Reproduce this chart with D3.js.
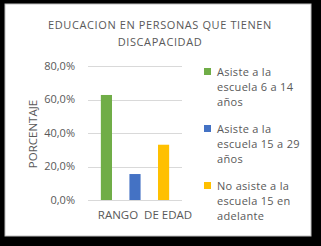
<!DOCTYPE html>
<html>
<head>
<meta charset="utf-8">
<script src="https://cdn.jsdelivr.net/npm/d3@7"></script>
<style>
  body { margin: 0; background: #000; }
  text { font-family: "Open Sans", "Liberation Sans", sans-serif; fill: #595959; }
</style>
</head>
<body>
<div id="chart"></div>
<script>
const categories = ['RANGO  DE EDAD'];
const seriesNames = [
  ['Asiste a la', 'escuela 6 a 14', 'años'],
  ['Asiste a la', 'escuela 15 a 29', 'años'],
  ['No asiste a la', 'escuela 15 en', 'adelante']
];
const seriesValues = [0.627, 0.155, 0.33];
const seriesColors = ['#70AD47', '#4472C4', '#FFC000'];
const yTicks = [0, 0.2, 0.4, 0.6, 0.8];

const width = 321, height = 246;
const margin = { top: 66, left: 88, right: 139, bottom: 46 };

const svg = d3.select('#chart').append('svg')
  .attr('width', width)
  .attr('height', height);

svg.append('rect').attr('width', width).attr('height', height).attr('fill', '#000');
svg.append('rect')
  .attr('x', 5).attr('y', 4)
  .attr('width', 306).attr('height', 232)
  .attr('fill', '#fff')
  .attr('stroke', '#bfbfbf');

// title
const title = svg.append('text')
  .attr('text-anchor', 'middle')
  .attr('font-size', 11)
  .attr('letter-spacing', 0.6);
title.append('tspan').attr('x', 160).attr('y', 29).text('EDUCACION EN PERSONAS QUE TIENEN');
title.append('tspan').attr('x', 160).attr('y', 46).text('DISCAPACIDAD');

const plotW = width - margin.left - margin.right;
const plotH = height - margin.top - margin.bottom;
const chart = svg.append('g').attr('transform', `translate(${margin.left},${margin.top})`);

const y = d3.scaleLinear().domain([0, 0.8]).range([plotH, 0]);
const x0 = d3.scaleBand().domain(categories).range([0, plotW]).paddingInner(0).paddingOuter(0.05);
const x1 = d3.scaleBand().domain(d3.range(seriesValues.length)).range([0, x0.bandwidth()]).paddingInner(0.61).paddingOuter(0.3);

// gridlines
chart.selectAll('.grid')
  .data(yTicks)
  .join('line')
  .attr('class', 'grid')
  .attr('x1', 0).attr('x2', plotW)
  .attr('y1', d => Math.round(y(d)) + 0.5)
  .attr('y2', d => Math.round(y(d)) + 0.5)
  .attr('stroke', '#d9d9d9');

// y axis labels
const fmt = d => d3.format('.1f')(d * 100).replace('.', ',') + '%';
chart.selectAll('.ytick')
  .data(yTicks)
  .join('text')
  .attr('class', 'ytick')
  .attr('x', -13)
  .attr('y', d => y(d))
  .attr('dy', '0.35em')
  .attr('text-anchor', 'end')
  .attr('font-size', 11)
  .text(fmt);

// bars
chart.selectAll('.bar')
  .data(seriesValues)
  .join('rect')
  .attr('class', 'bar')
  .attr('x', (d, i) => x0(categories[0]) + x1(i))
  .attr('width', x1.bandwidth())
  .attr('y', d => y(d))
  .attr('height', d => plotH - y(d))
  .attr('fill', (d, i) => seriesColors[i]);

// category label
chart.append('text')
  .attr('x', x0(categories[0]) + x0.bandwidth() / 2 + 10)
  .attr('y', plotH + 19)
  .attr('text-anchor', 'middle')
  .attr('font-size', 11.5)
  .attr('xml:space', 'preserve')
  .text(categories[0]);

// y axis title
chart.append('text')
  .attr('transform', 'rotate(-90)')
  .attr('x', -plotH / 2 - 1)
  .attr('y', -51)
  .attr('text-anchor', 'middle')
  .attr('font-size', 11.5)
  .text('PORCENTAJE');

// legend
const legend = svg.append('g').attr('transform', 'translate(204,68)');
const item = legend.selectAll('.item')
  .data(seriesNames)
  .join('g')
  .attr('class', 'item')
  .attr('transform', (d, i) => `translate(0,${i * 57})`);
item.append('rect')
  .attr('width', 7).attr('height', 7)
  .attr('fill', (d, i) => seriesColors[i]);
item.append('text')
  .attr('font-size', 11)
  .attr('letter-spacing', 0.3)
  .selectAll('tspan')
  .data(d => d)
  .join('tspan')
  .attr('x', 13)
  .attr('y', (d, i) => 8 + i * 15)
  .text(d => d);
</script>
</body>
</html>
